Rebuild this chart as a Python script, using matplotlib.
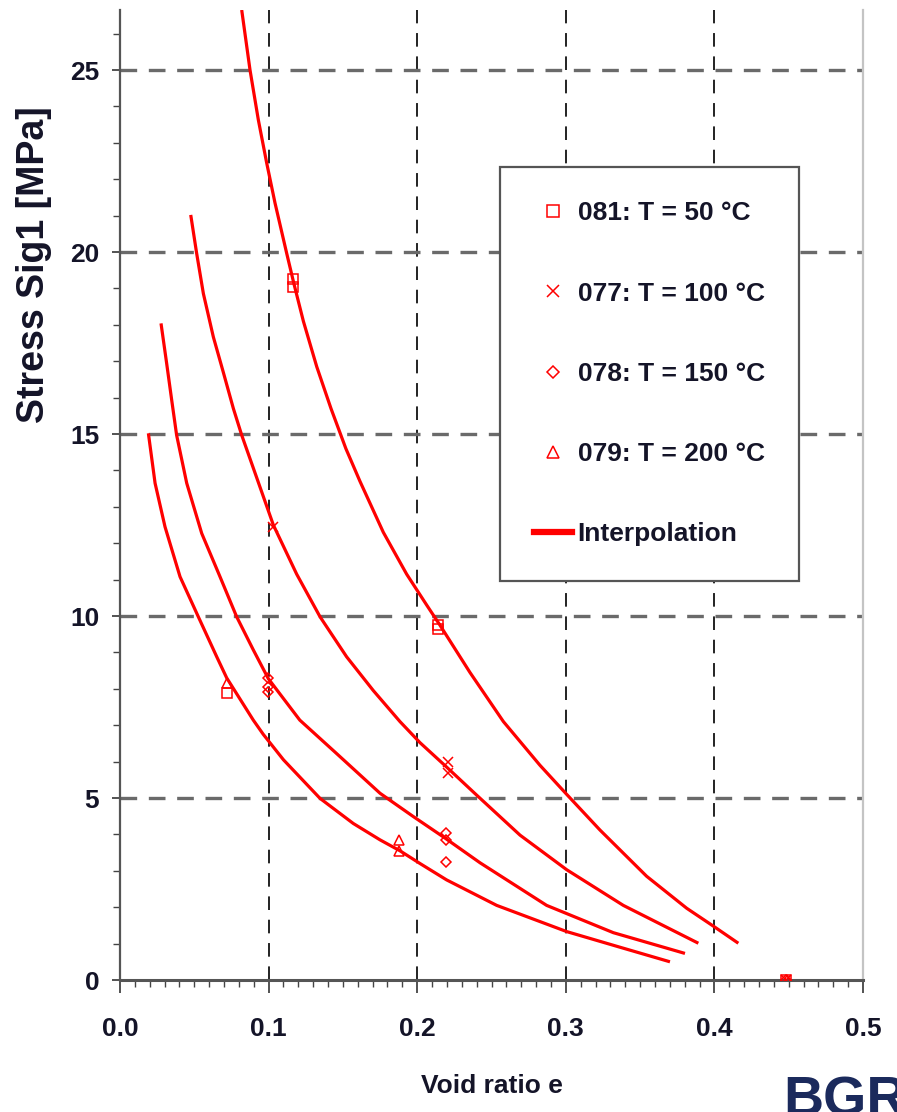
import matplotlib
matplotlib.use("Agg")
import matplotlib.pyplot as plt
from matplotlib.lines import Line2D
from matplotlib.ticker import MultipleLocator, FormatStrFormatter

plt.rcParams['font.family'] = ['Liberation Sans', 'DejaVu Sans']
plt.rcParams['font.weight'] = 'bold'

RED = '#ff0000'
TXT = '#141428'

# measured points (void ratio e, stress in MPa)
labels = ['081: T = 50 °C', '077: T = 100 °C', '078: T = 150 °C', '079: T = 200 °C']
markers = ['s', 'x', 'D', '^']

e_081 = [0.1166, 0.1166, 0.214, 0.214, 0.0718, 0.448]
s_081 = [19.05, 19.25, 9.75, 9.65, 7.88, 0.0]

e_077 = [0.1032, 0.221, 0.221, 0.448]
s_077 = [12.45, 6.0, 5.7, 0.0]

e_078 = [0.0998, 0.0998, 0.0998, 0.2195, 0.2195, 0.2195, 0.448]
s_078 = [8.3, 8.05, 7.9, 4.05, 3.85, 3.25, 0.0]

e_079 = [0.0718, 0.188, 0.188, 0.449]
s_079 = [8.15, 3.85, 3.55, 0.0]

# interpolation curves
ce_050 = [0.0819, 0.0875, 0.0931, 0.0987, 0.1043, 0.1122, 0.1171, 0.1234, 0.1324, 0.1420,
          0.1520, 0.1615, 0.1772, 0.1929, 0.2064, 0.2153, 0.2355, 0.2580, 0.2826, 0.3006,
          0.3230, 0.3544, 0.3814, 0.3993, 0.4161]
cs_050 = [26.65, 25.0, 23.63, 22.45, 21.35, 19.96, 19.12, 18.10, 16.85, 15.70,
          14.60, 13.70, 12.30, 11.15, 10.30, 9.75, 8.45, 7.10, 5.90, 5.10,
          4.12, 2.85, 1.97, 1.48, 1.01]

ce_100 = [0.0476, 0.0516, 0.0561, 0.0628, 0.0695, 0.0763, 0.0819, 0.0920, 0.1032, 0.1189,
          0.1346, 0.1525, 0.1705, 0.1884, 0.2019, 0.2198, 0.2400, 0.2692, 0.3006, 0.3387,
          0.3892]
cs_100 = [21.02, 19.96, 18.86, 17.67, 16.70, 15.70, 14.97, 13.80, 12.50, 11.15,
          9.98, 8.88, 7.95, 7.10, 6.52, 5.85, 5.08, 3.98, 3.03, 2.05,
          1.01]

ce_150 = [0.0276, 0.0314, 0.0348, 0.0381, 0.0449, 0.0550, 0.0673, 0.0785, 0.0897, 0.0998,
          0.1210, 0.1450, 0.1750, 0.1974, 0.2187, 0.2423, 0.2871, 0.3320, 0.3802]
cs_150 = [18.04, 16.94, 15.93, 14.97, 13.65, 12.27, 11.08, 9.98, 9.07, 8.28,
          7.14, 6.25, 5.13, 4.49, 3.90, 3.22, 2.05, 1.30, 0.73]

ce_200 = [0.0191, 0.0236, 0.0303, 0.0404, 0.0527, 0.0651, 0.0718, 0.0897, 0.0964, 0.1100,
          0.1346, 0.1570, 0.1750, 0.1884, 0.2019, 0.2198, 0.2535, 0.3006, 0.3365, 0.3701]
cs_200 = [15.02, 13.65, 12.45, 11.08, 9.98, 8.88, 8.30, 7.14, 6.75, 6.05,
          4.99, 4.30, 3.85, 3.55, 3.20, 2.75, 2.05, 1.33, 0.90, 0.50]

fig = plt.figure(figsize=(8.97, 11.12), dpi=100)
ax = fig.add_axes([120 / 897, 1 - 980 / 1112, 743 / 897, 970 / 1112])

for ce, cs in [(ce_050, cs_050), (ce_100, cs_100), (ce_150, cs_150), (ce_200, cs_200)]:
    ax.plot(ce, cs, color=RED, lw=2.3, solid_joinstyle='round', solid_capstyle='butt', zorder=3)

series = [(e_081, s_081), (e_077, s_077), (e_078, s_078), (e_079, s_079)]
for (e, s), m in zip(series, markers):
    ms = 5.5 if m == 'D' else 7
    ax.plot(e, s, linestyle='none', marker=m, ms=ms, mfc='none', mec=RED, mew=1.1, zorder=4)

ax.set_xlim(0, 0.5)
ax.set_ylim(0, 26.65)

ax.xaxis.set_major_locator(MultipleLocator(0.1))
ax.xaxis.set_minor_locator(MultipleLocator(0.01))
ax.yaxis.set_major_locator(MultipleLocator(5))
ax.yaxis.set_minor_locator(MultipleLocator(1))
ax.xaxis.set_major_formatter(FormatStrFormatter('%.1f'))

ax.tick_params(axis='both', which='major', direction='out', width=1.3,
               color='#444444', labelsize=19, labelcolor=TXT)
ax.tick_params(axis='both', which='minor', direction='out', length=5, width=1.0, color='#444444')
ax.tick_params(axis='x', which='major', length=9, pad=18)
ax.tick_params(axis='y', which='major', length=6, pad=9)

# dashed grid, drawn only on inner ticks
for v in [0.1, 0.2, 0.3, 0.4]:
    ax.axvline(v, color='#222222', lw=1.4, dashes=(7, 5), zorder=1)
for v in [5, 10, 15, 20, 25]:
    ax.axhline(v, color='#6a6a6a', lw=2.4, dashes=(5, 3.5), zorder=1)

ax.spines['top'].set_visible(False)
ax.spines['left'].set_color('#555555')
ax.spines['left'].set_linewidth(1.6)
ax.spines['bottom'].set_color('#555555')
ax.spines['bottom'].set_linewidth(2.2)
ax.spines['right'].set_color('#c4c4c4')
ax.spines['right'].set_linewidth(1.6)

ax.set_xlabel('Void ratio e', fontsize=19, color=TXT, weight='bold')
ax.xaxis.set_label_coords(0.5, -0.097)
ax.set_ylabel('Stress Sig1 [MPa]', fontsize=27, color=TXT, weight='bold')
ax.yaxis.set_label_coords(-0.092, 0.737)

handles = [Line2D([], [], linestyle='none', marker=m, ms=(6.5 if m == 'D' else 8),
                  mfc='none', mec=RED, mew=1.1) for m in markers]
handles.append(Line2D([], [], color=RED, lw=4.5))
leg = ax.legend(handles, labels + ['Interpolation'], loc='upper left',
                bbox_to_anchor=(0.511, 0.838), borderaxespad=0, fontsize=19,
                labelspacing=2.13, borderpad=1.3, handlelength=1.45, handletextpad=0.2,
                fancybox=False, framealpha=1, edgecolor='#555555')
leg.get_frame().set_linewidth(1.6)
for t in leg.get_texts():
    t.set_color(TXT)

fig.text(783 / 897, 1 - 1075 / 1112, 'BGR', ha='left', va='top', fontsize=40,
         weight='bold', color='#1b2a5c')

fig.savefig('out.png', dpi=100)
